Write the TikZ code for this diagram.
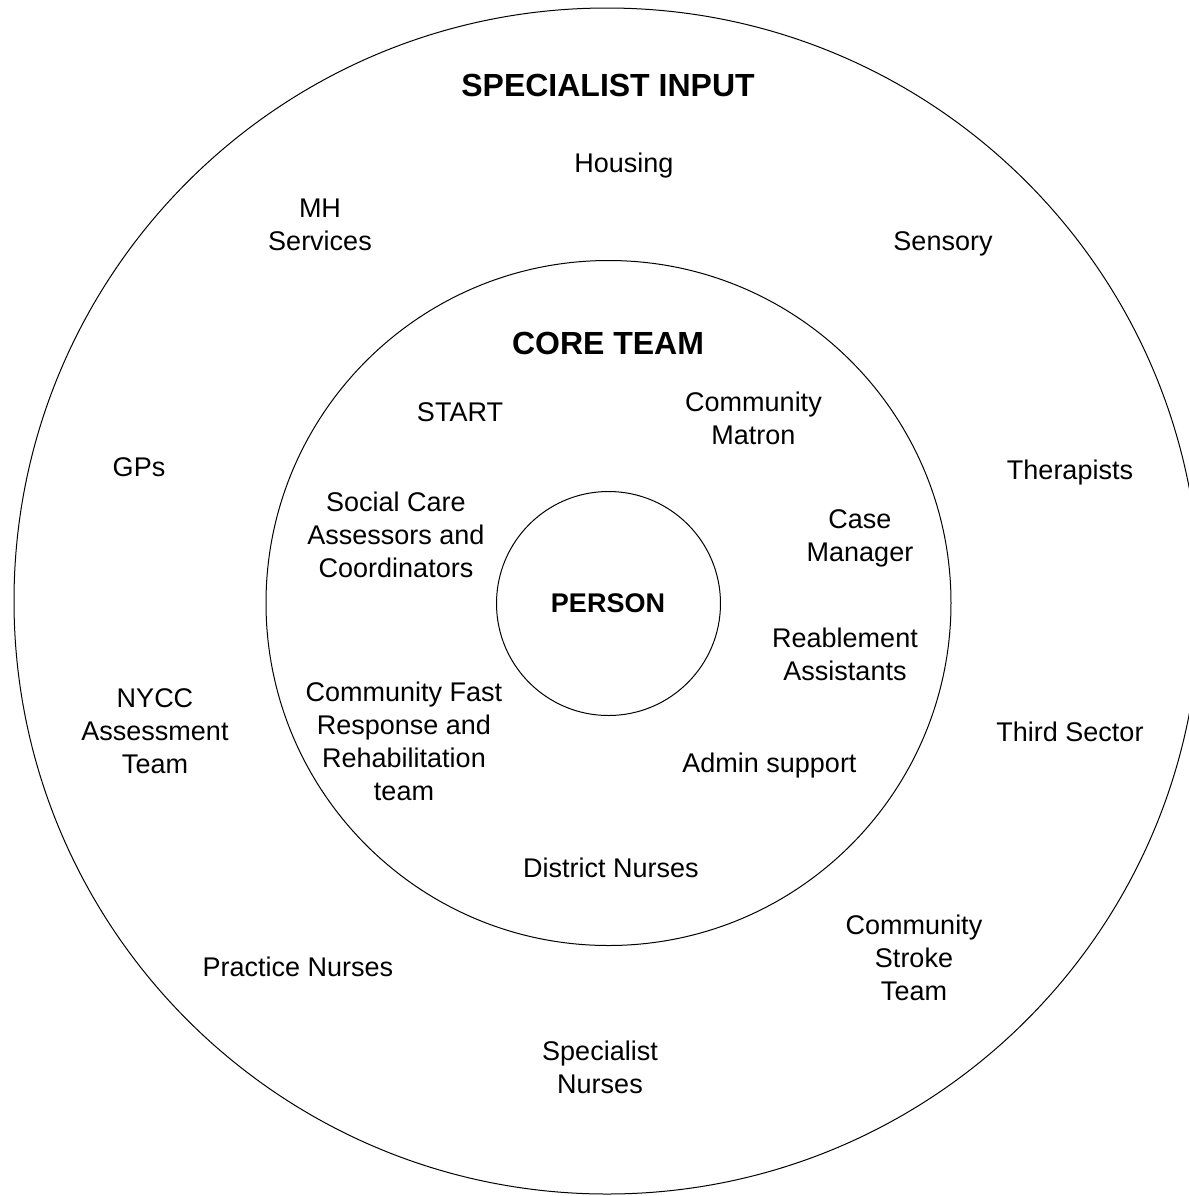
\documentclass[tikz,border=0pt]{standalone}
\usepackage{fontspec}
\setmainfont{Liberation Sans}
\usetikzlibrary{positioning}

\begin{document}
\begin{tikzpicture}[x=0.5pt,y=-0.5pt,line width=0.5pt,
  lbl/.style={align=center,font=\fontsize{13.5}{16.5}\selectfont},
  ttl/.style={align=center,font=\fontsize{16}{19}\selectfont\bfseries}]
\clip (0,0) rectangle (1189,1196);

\draw (607,601) circle [radius=296.5pt];
\draw (608.5,603) circle [radius=171.25pt];
\draw (608.5,603.5) circle [radius=56pt];

\node (spec) [ttl] at (608,85) {SPECIALIST INPUT};
\node (core) [ttl] at (608,343) {CORE TEAM};
\node (person) [lbl,font=\fontsize{13.5}{16.5}\selectfont\bfseries] at (608,603) {PERSON};

\node (housing) [lbl] at (624,166) {Housing};
\node (mh) [lbl] at (320,224.5) {MH\\Services};
\node (sensory) [lbl] at (943,244) {Sensory};
\node (gps) [lbl] at (139,467) {GPs};
\node (therap) [lbl] at (1070,473) {Therapists};
\node (nycc) [lbl] at (155,731.5) {NYCC\\Assessment\\Team};
\node (third) [lbl] at (1070,732) {Third Sector};
\node (stroke) [lbl] at (914,958) {Community\\Stroke\\Team};
\node (practice) [lbl] at (298,967) {Practice Nurses};
\node (specnurse) [lbl] at (600,1067.5) {Specialist\\Nurses};

\node (start) [lbl] at (460,412) {START};
\node (matron) [lbl] at (753.5,418.5) {Community\\Matron};
\node (social) [lbl] at (396,535) {Social Care\\Assessors and\\Coordinators};
\node (case) [lbl] at (860,538) {Case\\Manager};
\node (reable) [lbl] at (845,654) {Reablement\\Assistants};
\node (fast) [lbl] at (404,741) {Community Fast\\Response and\\Rehabilitation\\team};
\node (admin) [lbl] at (769.5,766) {Admin support};
\node (district) [lbl] at (611,868) {District Nurses};
\end{tikzpicture}
\end{document}
